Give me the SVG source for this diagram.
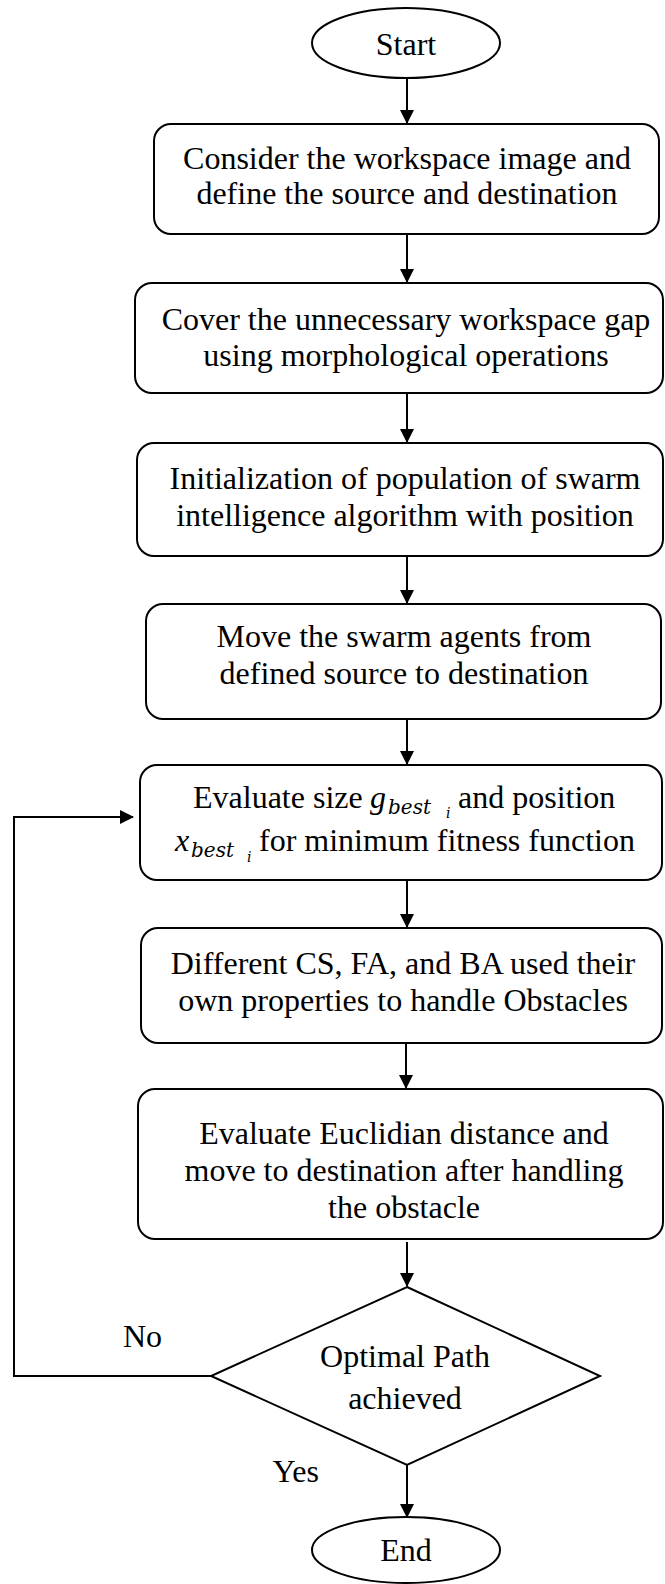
<svg xmlns="http://www.w3.org/2000/svg" width="665" height="1584" viewBox="0 0 665 1584">
  <style>
    .shape { fill: #ffffff; stroke: #000000; stroke-width: 2; }
    .label { font-family: "Liberation Serif", "Times New Roman", serif; font-size: 32px; fill: #000000; text-anchor: middle; }
    .side { font-family: "Liberation Serif", "Times New Roman", serif; font-size: 32px; fill: #000000; }
    .var { font-family: "Liberation Serif", "Times New Roman", serif; font-style: italic; font-size: 32px; }
    .sub { font-family: "DejaVu Serif", "Liberation Serif", serif; font-style: italic; font-size: 20px; }
    .idx { font-family: "DejaVu Serif", "Liberation Serif", serif; font-style: italic; font-size: 14px; }
    .flow { fill: none; stroke: #000000; stroke-width: 2; }
  </style>
  <defs>
    <marker id="arrow" viewBox="0 0 14 14" refX="13" refY="7" markerWidth="14" markerHeight="14" markerUnits="userSpaceOnUse" orient="auto">
      <path d="M0,0 L14,7 L0,14 Z" fill="#000000"/>
    </marker>
  </defs>

  <rect width="665" height="1584" fill="#ffffff"/>

  <!-- connectors -->
  <g id="connectors">
    <line class="flow" x1="407" y1="78" x2="407" y2="123" marker-end="url(#arrow)"/>
    <line class="flow" x1="407" y1="235" x2="407" y2="282" marker-end="url(#arrow)"/>
    <line class="flow" x1="407" y1="394" x2="407" y2="442" marker-end="url(#arrow)"/>
    <line class="flow" x1="407" y1="557" x2="407" y2="603" marker-end="url(#arrow)"/>
    <line class="flow" x1="407" y1="720" x2="407" y2="764" marker-end="url(#arrow)"/>
    <line class="flow" x1="407" y1="881" x2="407" y2="927" marker-end="url(#arrow)"/>
    <line class="flow" x1="406" y1="1044" x2="406" y2="1088" marker-end="url(#arrow)"/>
    <line class="flow" x1="407" y1="1242" x2="407" y2="1286" marker-end="url(#arrow)"/>
    <line class="flow" x1="407" y1="1465" x2="407" y2="1517" marker-end="url(#arrow)"/>
    <polyline class="flow" points="211,1376 14,1376 14,817 133,817" marker-end="url(#arrow)"/>
  </g>

  <!-- terminal: start -->
  <g id="start">
    <ellipse class="shape" cx="406" cy="43" rx="94" ry="35"/>
    <text class="label" x="406" y="55">Start</text>
  </g>

  <g id="consider-workspace">
    <rect class="shape" x="154" y="124" width="505" height="110" rx="17"/>
    <text class="label" x="407" y="169">Consider the workspace image and</text>
    <text class="label" x="407" y="204">define the source and destination</text>
  </g>

  <g id="cover-gap">
    <rect class="shape" x="135" y="283" width="528" height="110" rx="17"/>
    <text class="label" x="406" y="330">Cover the unnecessary workspace gap</text>
    <text class="label" x="406" y="366">using morphological operations</text>
  </g>

  <g id="initialize-population">
    <rect class="shape" x="137" y="443" width="526" height="113" rx="17"/>
    <text class="label" x="405" y="489">Initialization of population of swarm</text>
    <text class="label" x="405" y="526">intelligence algorithm with position</text>
  </g>

  <g id="move-agents">
    <rect class="shape" x="146" y="604" width="515" height="115" rx="17"/>
    <text class="label" x="404" y="647">Move the swarm agents from</text>
    <text class="label" x="404" y="684">defined source to destination</text>
  </g>

  <!-- mixed text and math: each line is one text run -->
  <g id="evaluate-fitness">
    <rect class="shape" x="140" y="765" width="522" height="115" rx="17"/>
    <text class="side"><tspan x="193" y="808">Evaluate size</tspan><tspan class="var" x="370" y="808">g</tspan><tspan class="sub" x="388" y="814">best</tspan><tspan class="idx" x="446" y="818">i</tspan><tspan x="458" y="808">and position</tspan></text>
    <text class="side"><tspan class="var" x="175" y="851">x</tspan><tspan class="sub" x="191" y="857">best</tspan><tspan class="idx" x="247" y="862">i</tspan><tspan x="259" y="851">for minimum fitness function</tspan></text>
  </g>

  <g id="handle-obstacles">
    <rect class="shape" x="141" y="928" width="521" height="115" rx="17"/>
    <text class="label" x="403" y="974">Different CS, FA, and BA used their</text>
    <text class="label" x="403" y="1011">own properties to handle Obstacles</text>
  </g>

  <g id="euclidean-distance">
    <rect class="shape" x="138" y="1089" width="525" height="150" rx="17"/>
    <text class="label" x="404" y="1144">Evaluate Euclidian distance and</text>
    <text class="label" x="404" y="1181">move to destination after handling</text>
    <text class="label" x="404" y="1218">the obstacle</text>
  </g>

  <!-- decision -->
  <g id="optimal-path">
    <polygon class="shape" points="407,1287 600,1376 407,1465 211,1376"/>
    <text class="label" x="405" y="1367">Optimal Path</text>
    <text class="label" x="405" y="1409">achieved</text>
  </g>

  <g id="branch-labels">
    <text class="side" x="123" y="1347">No</text>
    <text class="side" x="319" y="1482" text-anchor="end">Yes</text>
  </g>

  <!-- terminal: end -->
  <g id="end">
    <ellipse class="shape" cx="406" cy="1550" rx="94" ry="33"/>
    <text class="label" x="406" y="1561">End</text>
  </g>
</svg>
